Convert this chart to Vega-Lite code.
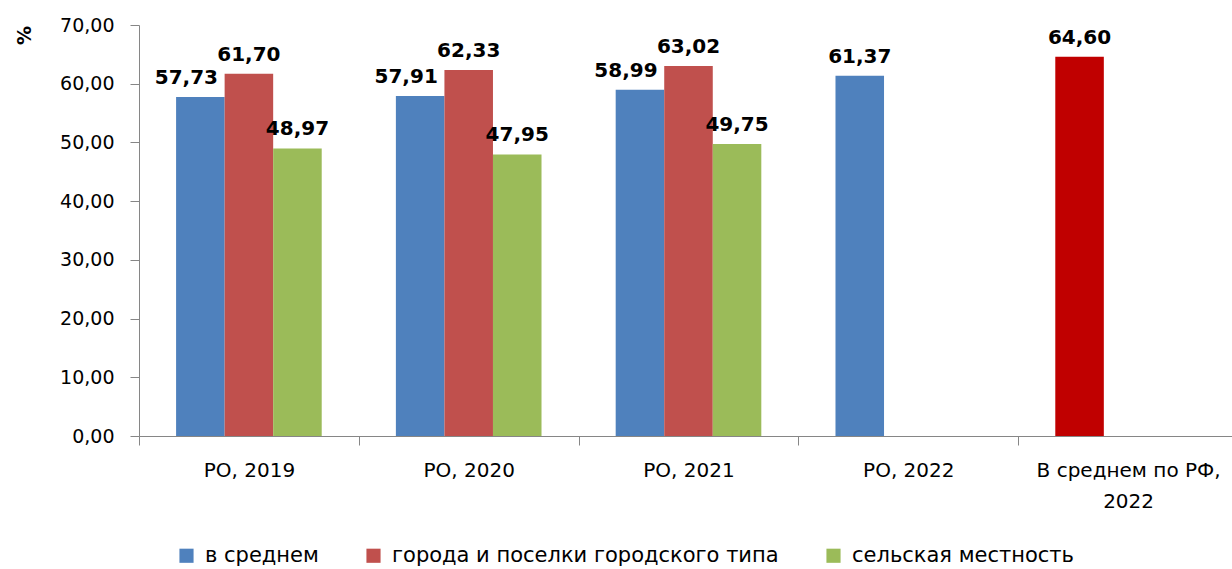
{
  "$schema": "https://vega.github.io/schema/vega-lite/v6.json",
  "autosize": {"type": "none"},
  "padding": {"left": 139, "top": 25, "right": 0, "bottom": 133},
  "width": 1099,
  "height": 411,
  "background": "white",
  "config": {
    "locale": {"number": {"decimal": ",", "thousands": " ", "grouping": [3], "currency": ["", ""]}},
    "view": {"stroke": null},
    "font": "DejaVu Sans"
  },
  "data": {
    "values": [
      {"category": "РО, 2019", "series": "в среднем", "value": 57.73},
      {"category": "РО, 2019", "series": "города и поселки городского типа", "value": 61.70},
      {"category": "РО, 2019", "series": "сельская местность", "value": 48.97},
      {"category": "РО, 2020", "series": "в среднем", "value": 57.91},
      {"category": "РО, 2020", "series": "города и поселки городского типа", "value": 62.33},
      {"category": "РО, 2020", "series": "сельская местность", "value": 47.95},
      {"category": "РО, 2021", "series": "в среднем", "value": 58.99},
      {"category": "РО, 2021", "series": "города и поселки городского типа", "value": 63.02},
      {"category": "РО, 2021", "series": "сельская местность", "value": 49.75},
      {"category": "РО, 2022", "series": "в среднем", "value": 61.37},
      {"category": "В среднем по РФ, 2022", "series": "в среднем", "value": 64.60}
    ]
  },
  "encoding": {
    "x": {
      "field": "category", "type": "nominal", "sort": null,
      "scale": {"paddingInner": 0, "paddingOuter": 0},
      "axis": {
        "title": null, "labelAngle": 0, "tickBand": "extent",
        "domainColor": "#868686", "tickColor": "#868686", "tickSize": 9,
        "labelFontSize": 20, "labelColor": "#000000", "labelPadding": 15,
        "labelLineHeight": 31, "labelBaseline": "top", "labelLimit": 0,
        "labelExpr": "datum.label == 'В среднем по РФ, 2022' ? ['В среднем по РФ,', '2022'] : datum.label"
      }
    },
    "xOffset": {
      "field": "series", "type": "nominal",
      "sort": ["в среднем", "города и поселки городского типа", "сельская местность"],
      "scale": {"paddingInner": 0, "paddingOuter": 0.764}
    },
    "y": {
      "field": "value", "type": "quantitative",
      "scale": {"domain": [0, 70], "nice": false},
      "axis": {
        "values": [0, 10, 20, 30, 40, 50, 60, 70], "format": ".2f",
        "grid": false, "domainColor": "#868686", "tickColor": "#868686", "tickSize": 9,
        "labelFontSize": 19, "labelColor": "#000000", "labelPadding": 16,
        "title": "%", "titleFontSize": 19, "titleFontWeight": "bold", "titleColor": "#000000",
        "titleAngle": 270, "titleX": -115, "titleY": 10, "titleAlign": "center", "titleBaseline": "middle"
      }
    }
  },
  "layer": [
    {
      "mark": {"type": "bar"},
      "encoding": {
        "color": {
          "condition": {"test": "datum.category === 'В среднем по РФ, 2022'", "value": "#C00000"},
          "field": "series", "type": "nominal",
          "scale": {"domain": ["в среднем", "города и поселки городского типа", "сельская местность"], "range": ["#4F81BD", "#C0504D", "#9BBB59"]},
          "legend": {
            "title": null, "orient": "none", "direction": "horizontal",
            "legendX": 37, "legendY": 520,
            "symbolType": "square", "symbolSize": 200, "symbolStrokeWidth": 0,
            "labelFontSize": 21, "labelColor": "#000000", "labelLimit": 0,
            "columnPadding": 44, "labelOffset": 8
          }
        }
      }
    },
    {
      "transform": [{"filter": "datum.series === 'в среднем' && datum.category !== 'РО, 2022' && datum.category !== 'В среднем по РФ, 2022'"}],
      "mark": {"type": "text", "fontSize": 20, "fontWeight": "bold", "dy": -13, "dx": -14, "baseline": "alphabetic", "color": "#000000"},
      "encoding": {"text": {"field": "value", "type": "quantitative", "format": ".2f"}}
    },
    {
      "transform": [{"filter": "!(datum.series === 'в среднем' && datum.category !== 'РО, 2022' && datum.category !== 'В среднем по РФ, 2022')"}],
      "mark": {"type": "text", "fontSize": 20, "fontWeight": "bold", "dy": -13, "baseline": "alphabetic", "color": "#000000"},
      "encoding": {"text": {"field": "value", "type": "quantitative", "format": ".2f"}}
    }
  ]
}
